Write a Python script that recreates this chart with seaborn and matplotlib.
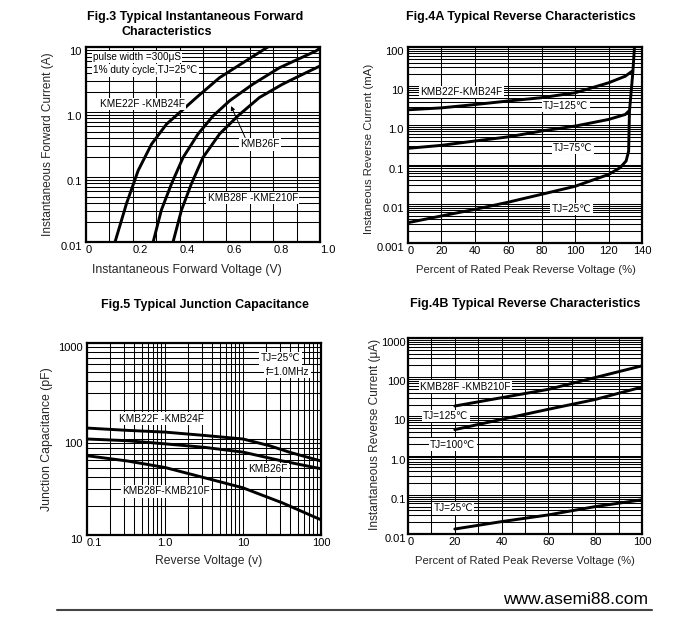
import numpy as np
import pandas as pd
import matplotlib
matplotlib.use("Agg")
import matplotlib.pyplot as plt
from matplotlib.lines import Line2D
import seaborn as sns

sns.set_theme(style="white")
plt.rcParams['font.family'] = ['Liberation Sans', 'DejaVu Sans']

# ---------------- data ----------------
# Fig.3 forward characteristics (V, A)
fwd_v_24 = [0.124, 0.173, 0.223, 0.28, 0.344, 0.40, 0.472, 0.571, 0.67, 0.777]
fwd_i_24 = [0.01, 0.039, 0.126, 0.32, 0.65, 0.98, 1.67, 3.38, 5.7, 10.0]
fwd_v_26 = [0.287, 0.322, 0.365, 0.415, 0.479, 0.543, 0.614, 0.713, 0.827, 0.983, 1.0]
fwd_i_26 = [0.01, 0.031, 0.078, 0.20, 0.46, 0.87, 1.49, 2.68, 4.8, 8.7, 9.6]
fwd_v_210 = [0.372, 0.408, 0.45, 0.50, 0.571, 0.649, 0.741, 0.84, 0.926, 1.0]
fwd_i_210 = [0.01, 0.031, 0.078, 0.20, 0.46, 0.87, 1.67, 2.68, 3.8, 5.1]

# Fig.4A reverse characteristics (%, mA)
rev_a_pct_125 = [0, 20, 40, 60, 80, 100, 120, 130, 134]
rev_a_i_125 = [2.5, 2.8, 3.4, 4.2, 5.1, 6.8, 12.2, 18, 24]
rev_a_pct_75 = [0, 20, 40, 60, 80, 100, 120, 130, 132]
rev_a_i_75 = [0.26, 0.31, 0.40, 0.51, 0.72, 0.96, 1.42, 1.9, 2.3]
rev_a_pct_25 = [0, 20, 40, 60, 80, 100, 120, 127, 130.5, 132, 132.5, 134.5, 135.5]
rev_a_i_25 = [0.0033, 0.0049, 0.0072, 0.011, 0.0175, 0.028, 0.056, 0.084, 0.124, 0.22, 2.3, 22, 100]

# Fig.5 junction capacitance (V, pF)
cap_v = [0.1, 0.33, 1.0, 3.16, 10, 22, 40, 100]
cap_24 = [130, 123, 118, 109, 100, 85, 72.6, 59]
cap_v2 = [0.1, 0.33, 1.0, 3.16, 10, 32, 100]
cap_26 = [100, 96, 89, 82, 73, 59, 49]
cap_210 = [67, 59, 50.5, 39.6, 31, 21.6, 14.4]

# Fig.4B reverse characteristics (%, uA)
rev_b_pct = [20, 40, 60, 80, 100]
rev_b_top = [18.4, 30, 49, 98, 195]
rev_b_125 = [4.6, 8.4, 15.2, 27, 56]
rev_b_25 = [0.0134, 0.0207, 0.0307, 0.050, 0.0745]

W, H = 700, 625


def frame(series):
    rows = []
    for name, xs, ys in series:
        for k, (x, y) in enumerate(zip(xs, ys)):
            rows.append({'series': name, 'x': x, 'y': y, 'order': k})
    return pd.DataFrame(rows)


def px_axes(fig, l, t, r, b):
    return fig.add_axes([l / W, 1 - b / H, (r - l) / W, (b - t) / H])


def style_axes(ax, xpad=2.0, ypad=3):
    for s in ax.spines.values():
        s.set_visible(True)
        s.set_color('black')
        s.set_linewidth(1.6)
    ax.grid(True, which='both', color='black', lw=0.75)
    ax.tick_params(which='both', length=0, labelsize=8, colors='black')
    ax.tick_params(axis='x', pad=xpad)
    ax.tick_params(axis='y', pad=ypad)
    ax.set_axisbelow(True)
    ax.set_facecolor('white')


def draw(ax, df):
    sns.lineplot(data=df, x='x', y='y', units='series', estimator=None, sort=False,
                 color='black', lw=2.1, ax=ax, legend=False)


def label(ax, x, y, s, fs=7.2):
    ax.text(x, y, s, ha='left', va='center', fontsize=fs, color='black', zorder=5,
            bbox=dict(facecolor='white', edgecolor='none', pad=1.0))


fig = plt.figure(figsize=(7, 6.25), dpi=100)
fig.patch.set_facecolor('white')

# ---------------- Fig.3 ----------------
ax1 = px_axes(fig, 86, 47, 320, 242)
ax1.set_yscale('log')
draw(ax1, frame([('a', fwd_v_24, fwd_i_24), ('b', fwd_v_26, fwd_i_26), ('c', fwd_v_210, fwd_i_210)]))
ax1.set_xlim(0, 1.0)
ax1.set_ylim(0.01, 10)
ax1.set_xticks(np.arange(0, 1.01, 0.2))
ax1.set_xticks(np.arange(0, 1.01, 0.1), minor=True)
ax1.set_xticklabels(['0', '0.2', '0.4', '0.6', '0.8', '1.0'], ha='left')
ax1.set_yticks([0.01, 0.1, 1, 10])
ax1.set_yticklabels(['0.01', '0.1', '1.0', '10'], va='top')
ax1.yaxis.set_minor_formatter(matplotlib.ticker.NullFormatter())
style_axes(ax1)
ax1.set_xlabel('Instantaneous Forward Voltage (V)', fontsize=8.8)
ax1.set_ylabel('Instantaneous Forward Current (A)', fontsize=8.6)
ax1.xaxis.set_label_coords(0.43, -0.113)
ax1.yaxis.set_label_coords(-0.137, 0.5)
label(ax1, 0.03, 7.0, 'pulse width =300μS')
label(ax1, 0.03, 4.4, '1% duty cycle,TJ=25℃')
label(ax1, 0.06, 1.33, 'KME22F -KMB24F')
label(ax1, 0.66, 0.32, 'KMB26F')
label(ax1, 0.52, 0.0475, 'KMB28F -KME210F')
ax1.annotate('', xy=(0.615, 1.35), xytext=(0.685, 0.37),
             arrowprops=dict(arrowstyle='-|>', color='black', lw=0.7, mutation_scale=6), zorder=6)

# ---------------- Fig.4A ----------------
ax2 = px_axes(fig, 408, 47, 642, 243)
ax2.set_yscale('log')
draw(ax2, frame([('a', rev_a_pct_125, rev_a_i_125), ('b', rev_a_pct_75, rev_a_i_75),
                 ('c', rev_a_pct_25, rev_a_i_25)]))
ax2.set_xlim(0, 140)
ax2.set_ylim(0.001, 100)
ax2.set_xticks(np.arange(0, 141, 20))
ax2.set_xticklabels(['0', '20', '40', '60', '80', '100', '120', '140'])
ax2.get_xticklabels()[0].set_ha('left')
ax2.set_yticks([0.001, 0.01, 0.1, 1, 10, 100])
ax2.set_yticklabels(['0.001', '0.01', '0.1', '1.0', '10', '100'], va='top')
ax2.yaxis.set_minor_formatter(matplotlib.ticker.NullFormatter())
style_axes(ax2, xpad=1.8)
ax2.set_xlabel('Percent of Rated Peak Reverse Voltage (%)', fontsize=8.1)
ax2.set_ylabel('Instaneous Reverse Current (mA)', fontsize=8.2)
ax2.xaxis.set_label_coords(0.503, -0.112)
ax2.yaxis.set_label_coords(-0.145, 0.48)
label(ax2, 7.2, 7.1, 'KMB22F-KMB24F')
label(ax2, 80.8, 3.18, 'TJ=125℃')
label(ax2, 86.8, 0.265, 'TJ=75℃')
label(ax2, 86.0, 0.0074, 'TJ=25℃')

# ---------------- Fig.5 ----------------
ax3 = px_axes(fig, 87, 343, 321, 535)
ax3.set_xscale('log')
ax3.set_yscale('log')
draw(ax3, frame([('a', cap_v, cap_24), ('b', cap_v2, cap_26), ('c', cap_v2, cap_210)]))
ax3.set_xlim(0.1, 100)
ax3.set_ylim(10, 1000)
ax3.set_xticks([0.1, 1, 10, 100])
ax3.set_xticklabels(['0.1', '1.0', '10', '100'])
ax3.get_xticklabels()[0].set_ha('left')
ax3.set_yticks([10, 100, 1000])
ax3.set_yticklabels(['10', '100', '1000'], va='top')
ax3.xaxis.set_minor_formatter(matplotlib.ticker.NullFormatter())
ax3.yaxis.set_minor_formatter(matplotlib.ticker.NullFormatter())
style_axes(ax3, xpad=2.2)
ax3.set_xlabel('Reverse Voltage (v)', fontsize=8.7)
ax3.set_ylabel('Junction Capacitance (pF)', fontsize=8.8)
ax3.xaxis.set_label_coords(0.52, -0.104)
ax3.yaxis.set_label_coords(-0.145, 0.5)
label(ax3, 16.9, 695, 'TJ=25℃')
label(ax3, 19.5, 504, 'f=1.0MHz')
label(ax3, 0.257, 162, 'KMB22F -KMB24F')
label(ax3, 11.6, 48.3, 'KMB26F')
label(ax3, 0.284, 28.6, 'KMB28F-KMB210F')

# ---------------- Fig.4B ----------------
ax4 = px_axes(fig, 408, 338, 642, 534)
ax4.set_yscale('log')
draw(ax4, frame([('a', rev_b_pct, rev_b_top), ('b', rev_b_pct, rev_b_125), ('c', rev_b_pct, rev_b_25)]))
ax4.set_xlim(0, 100)
ax4.set_ylim(0.01, 1000)
ax4.set_xticks(np.arange(0, 101, 20))
ax4.set_xticks(np.arange(0, 101, 10), minor=True)
ax4.set_xticklabels(['0', '20', '40', '60', '80', '100'])
ax4.get_xticklabels()[0].set_ha('left')
ax4.set_yticks([0.01, 0.1, 1, 10, 100, 1000])
ax4.set_yticklabels(['0.01', '0.1', '1.0', '10', '100', '1000'], va='top')
ax4.yaxis.set_minor_formatter(matplotlib.ticker.NullFormatter())
style_axes(ax4, xpad=2.2, ypad=1.5)
ax4.set_xlabel('Percent of Rated Peak Reverse Voltage (%)', fontsize=8.1)
ax4.set_ylabel('Instantaneous Reverse Current (μA)', fontsize=8.6)
ax4.xaxis.set_label_coords(0.5, -0.112)
ax4.yaxis.set_label_coords(-0.115, 0.51)
label(ax4, 5.1, 57.7, 'KMB28F -KMB210F')
label(ax4, 6.5, 10.2, 'TJ=125℃')
label(ax4, 9.4, 1.91, 'TJ=100℃')
label(ax4, 10.8, 0.0455, 'TJ=25℃')

# ---------------- titles ----------------
tkw = dict(fontsize=9, fontweight='bold', color='black', va='center')
fig.text(87 / W, 1 - 17 / H, 'Fig.3 Typical Instantaneous Forward', ha='left', **tkw)
fig.text(122 / W, 1 - 32 / H, 'Characteristics', ha='left', **tkw)
fig.text(521 / W, 1 - 17 / H, 'Fig.4A Typical Reverse Characteristics', ha='center', **tkw)
fig.text(205 / W, 1 - 305 / H, 'Fig.5 Typical Junction Capacitance', ha='center', **tkw)
fig.text(525 / W, 1 - 304 / H, 'Fig.4B Typical Reverse Characteristics', ha='center', **tkw)

# ---------------- footer ----------------
fig.text(648 / W, 1 - 599 / H, 'www.asemi88.com', ha='right', va='center', fontsize=12.5, color='black')
fig.add_artist(Line2D([57 / W, 652 / W], [1 - 610 / H, 1 - 610 / H], color='#444444', lw=1.5))

fig.savefig('out.png', dpi=100, facecolor='white')
